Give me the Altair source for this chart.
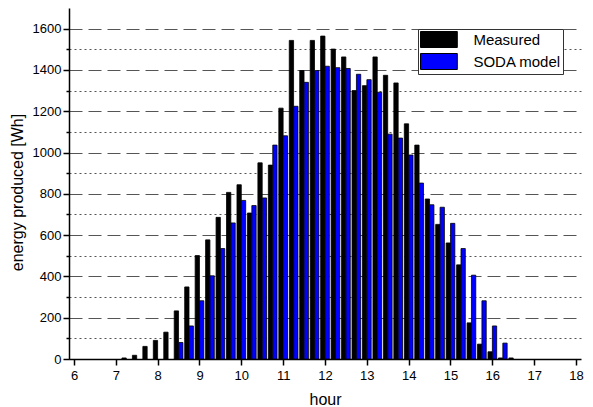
import altair as alt
import pandas as pd

hours = [7.25, 7.5, 7.75, 8.0, 8.25, 8.5, 8.75, 9.0, 9.25, 9.5, 9.75, 10.0,
         10.25, 10.5, 10.75, 11.0, 11.25, 11.5, 11.75, 12.0, 12.25, 12.5,
         12.75, 13.0, 13.25, 13.5, 13.75, 14.0, 14.25, 14.5, 14.75, 15.0,
         15.25, 15.5, 15.75, 16.0, 16.25, 16.5]

measured = [5, 18, 61, 90, 130, 233, 349, 501, 577, 686, 807, 844,
            707, 950, 939, 1215, 1543, 1397, 1543, 1564, 1501, 1463,
            1300, 1324, 1463, 1374, 1337, 1139, 1036, 775, 652, 562,
            456, 175, 72, 35, 5, 5]

soda = [0, 0, 0, 0, 0, 80, 160, 282, 403, 535, 659, 768,
        743, 780, 1036, 1081, 1224, 1340, 1397, 1418, 1411, 1407,
        1379, 1353, 1292, 1089, 1070, 988, 852, 747, 735, 657,
        535, 406, 282, 160, 77, 0]

series_names = ["Measured", "SODA model"]
series_colors = ["#000000", "#0000ff"]

df = pd.concat([
    pd.DataFrame({"hour": hours, "value": measured, "series": series_names[0]}),
    pd.DataFrame({"hour": hours, "value": soda, "series": series_names[1]}),
])

FONT = "Liberation Sans"

x_enc = alt.X(
    "hour:Q",
    scale=alt.Scale(domain=[6, 18], nice=False, zero=False),
    axis=alt.Axis(
        title="hour",
        values=[6 + 0.5 * i for i in range(25)],
        format="d",
        labelExpr="datum.value % 1 === 0 ? datum.label : ''",
        tickSize={"condition": {"test": "datum.value % 1 === 0", "value": 6}, "value": 3},
        grid=False,
        labelFontSize=13,
        titleFontSize=16,
        titleFontWeight="normal",
        labelPadding=4,
        titleY=45,
        titleBaseline="alphabetic",
    ),
)

y_enc = alt.Y(
    "value:Q",
    scale=alt.Scale(domain=[0, 1700], nice=False),
    axis=alt.Axis(
        title="energy produced [Wh]",
        values=[100 * i for i in range(17)],
        labelExpr="datum.value % 200 === 0 ? datum.label : ''",
        tickSize={"condition": {"test": "datum.value % 200 === 0", "value": 6}, "value": 3},
        grid=True,
        gridColor="#555555",
        gridWidth=1,
        gridDash={"condition": {"test": "datum.value % 200 === 0", "value": [13, 6]}, "value": [2, 3]},
        labelFontSize=13,
        titleFontSize=16,
        titleFontWeight="normal",
        labelPadding=2,
        titleX=-47,
        titleY=184,
        titleBaseline="alphabetic",
        titleAngle=270,
        format="d",
    ),
)

color_enc = alt.Color(
    "series:N",
    scale=alt.Scale(domain=series_names, range=series_colors),
    legend=alt.Legend(
        title=None,
        orient="none",
        legendX=349,
        legendY=21,
        symbolType="M-2.3,-1H2.3V1H-2.3Z",
        symbolSize=256,
        symbolOffset=10.4,
        symbolStrokeColor="#000000",
        symbolStrokeWidth=1,
        symbolOpacity=1,
        labelFontSize=15,
        labelFont=FONT,
        labelColor="#000000",
        labelOffset=26,
        strokeColor="#333333",
        fillColor="#ffffff",
        padding=2,
        rowPadding=1,
    ),
)

base = alt.Chart(df).transform_filter("datum.value > 0")

black = base.transform_filter("datum.series === 'Measured'").mark_bar(
    width=4.3, xOffset=-2.2, stroke="#000000", strokeWidth=0.8, opacity=1
).encode(x=x_enc, y=y_enc, color=color_enc)

blue = base.transform_filter("datum.series === 'SODA model'").mark_bar(
    width=4.3, xOffset=2.2, stroke="#000000", strokeWidth=0.8, opacity=1
).encode(x=x_enc, y=y_enc, color=color_enc)

chart = alt.layer(black, blue).properties(
    width=512,
    height=351,
    autosize=alt.AutoSizeParams(type="none"),
    padding={"left": 69, "top": 8, "right": 12, "bottom": 48},
    background="#ffffff",
).configure_view(stroke=None).configure_axis(
    domainColor="#000000",
    domainWidth=1.5,
    tickColor="#000000",
    tickWidth=1.5,
    labelColor="#000000",
    titleColor="#000000",
    labelFont=FONT,
    titleFont=FONT,
)

chart.save("out.html", embed_options={"renderer": "svg", "actions": False})
